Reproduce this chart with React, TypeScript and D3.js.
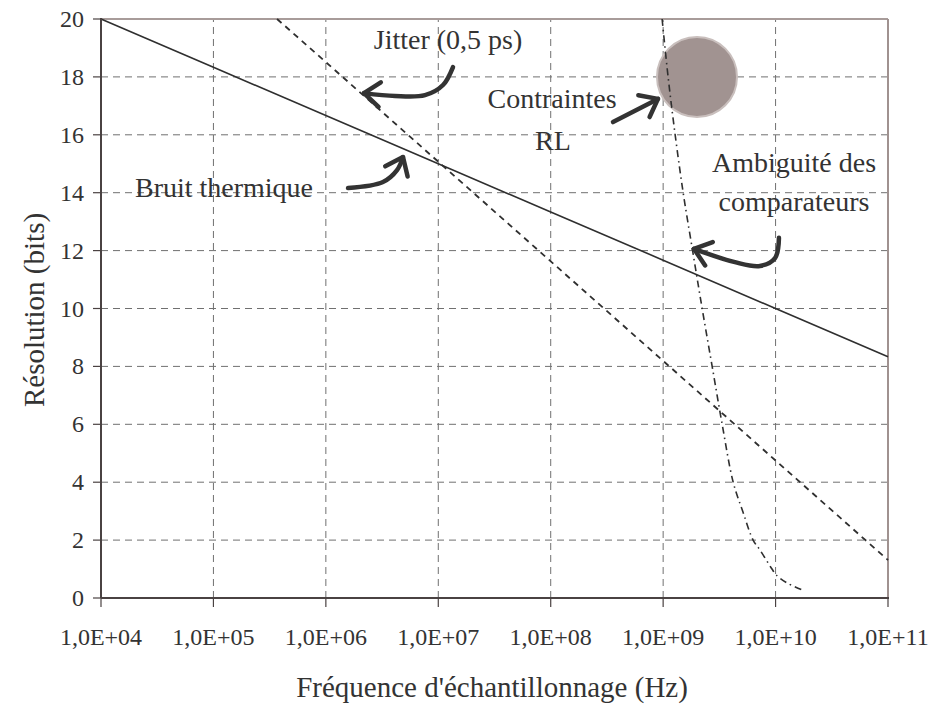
import React from 'react';
import * as d3 from 'd3';

// ---- data ----
const xTickValues = [1e4, 1e5, 1e6, 1e7, 1e8, 1e9, 1e10, 1e11];
const xTickLabels = ['1,0E+04', '1,0E+05', '1,0E+06', '1,0E+07', '1,0E+08', '1,0E+09', '1,0E+10', '1,0E+11'];
const yTickValues = [0, 2, 4, 6, 8, 10, 12, 14, 16, 18, 20];

const thermalFreq = [1e4, 1e5, 1e6, 1e7, 1e8, 1e9, 1e10, 1e11];
const thermalBits = [20, 18.33, 16.67, 15, 13.33, 11.67, 10, 8.33];

const jitterFreq = [3.68e5, 1e6, 1e7, 1e8, 1e9, 1e10, 1e11];
const jitterBits = [20, 18.51, 15.07, 11.63, 8.19, 4.75, 1.31];

const ambigFreq = [9.79e8, 1.107e9, 1.279e9, 1.507e9, 1.828e9, 2.223e9, 2.729e9, 3.35e9, 4.198e9, 5.13e9, 6.31e9, 7.26e9, 9.29e9, 1.012e10, 1.265e10, 1.718e10];
const ambigBits = [20, 18, 16, 14, 12, 10, 8, 6, 4, 2.97, 2, 1.66, 1.0, 0.8, 0.52, 0.28];

// RL constraint zone (centre)
const rlFreq = [2.0e9];
const rlBits = [18];

// annotation arrows (data coords: log10 freq, bits)
const arrowJitter = [[7.131, 18.34], [7.042, 17.72], [6.882, 17.37], [6.615, 17.34], [6.339, 17.44]];
const arrowThermal = [[6.197, 14.16], [6.508, 14.37], [6.633, 14.78], [6.686, 15.23]];
const arrowRL = [[8.554, 16.44], [8.954, 17.24]];
const arrowAmbig = [[10.03, 12.44], [9.995, 11.74], [9.861, 11.47], [9.639, 11.6], [9.274, 12.06]];

const W = 929;
const H = 706;
const FONT = "'Liberation Serif', 'Times New Roman', Times, 'DejaVu Serif', serif";
const TXT = '#333333';

export default function App() {
  const x = d3.scaleLog().domain([1e4, 1e11]).range([101, 888]);
  const y = d3.scaleLinear().domain([0, 20]).range([598, 19]);

  const line = d3.line<[number, number]>().x((d) => x(d[0])).y((d) => y(d[1]));
  const thermal = line(thermalFreq.map((f, i) => [f, thermalBits[i]]) as [number, number][]);
  const jitter = line(jitterFreq.map((f, i) => [f, jitterBits[i]]) as [number, number][]);
  const ambig = d3
    .line<[number, number]>()
    .x((d) => x(d[0]))
    .y((d) => y(d[1]))
    .curve(d3.curveCatmullRom.alpha(0.5))(ambigFreq.map((f, i) => [f, ambigBits[i]]) as [number, number][]);

  const arrow = (pts: number[][], key: string) => {
    const px = pts.map((p) => [x(Math.pow(10, p[0])), y(p[1])] as [number, number]);
    const path = d3.line<[number, number]>().curve(d3.curveCatmullRom.alpha(0.5))(px);
    const n = px.length;
    const tip = px[n - 1];
    const prev = px[n - 2];
    const ang = Math.atan2(tip[1] - prev[1], tip[0] - prev[0]);
    const L = 20;
    const a = (38 * Math.PI) / 180;
    const p1 = [tip[0] - L * Math.cos(ang - a), tip[1] - L * Math.sin(ang - a)];
    const p2 = [tip[0] - L * Math.cos(ang + a), tip[1] - L * Math.sin(ang + a)];
    return (
      <g key={key} stroke="#333" strokeWidth={4.5} fill="none" strokeLinecap="round" strokeLinejoin="round">
        <path d={path || ''} />
        <path d={`M${p1[0]},${p1[1]}L${tip[0]},${tip[1]}L${p2[0]},${p2[1]}`} />
      </g>
    );
  };

  const [x0, x1] = x.range();
  const [y0, y1] = y.range();
  const ts = { fontFamily: FONT } as React.CSSProperties;

  return (
    <svg width={W} height={H} style={{ position: 'absolute', left: 0, top: 0, background: '#fff' }}>
      {/* grid */}
      <g stroke="#707070" strokeWidth={1} strokeDasharray="7,5">
        {yTickValues.filter((v) => v > 0 && v < 20).map((v) => (
          <line key={'gy' + v} x1={x0} x2={x1} y1={y(v)} y2={y(v)} />
        ))}
        {xTickValues.filter((v) => v > 1e4 && v < 1e11).map((v) => (
          <line key={'gx' + v} x1={x(v)} x2={x(v)} y1={y0} y2={y1} />
        ))}
      </g>

      {/* borders */}
      <line x1={x0} x2={x1} y1={y1} y2={y1} stroke="#a89c9a" strokeWidth={2} />
      <line x1={x1} x2={x1} y1={y1} y2={y0} stroke="#a09290" strokeWidth={2} />

      {/* RL circle */}
      {rlFreq.map((f, i) => (
        <circle key={'rl' + i} cx={x(f)} cy={y(rlBits[i])} r={40} fill="#a19391" stroke="#c9bfbd" strokeWidth={2} />
      ))}

      {/* curves */}
      <path d={thermal || ''} fill="none" stroke="#2f2f2f" strokeWidth={1.6} />
      <path d={jitter || ''} fill="none" stroke="#2f2f2f" strokeWidth={1.8} strokeDasharray="6,5" />
      <path d={ambig || ''} fill="none" stroke="#2f2f2f" strokeWidth={1.6} strokeDasharray="7,4,1.5,4" />

      {/* axes */}
      <g stroke="#4a4242" strokeWidth={2}>
        <line x1={x0} x2={x0} y1={y1 - 1} y2={y0} />
        <line x1={x0} x2={x1 + 1} y1={y0} y2={y0} />
        {yTickValues.map((v) => (
          <line key={'ty' + v} x1={x0 - 8} x2={x0} y1={y(v)} y2={y(v)} strokeWidth={1.2} />
        ))}
        {xTickValues.map((v) => (
          <line key={'tx' + v} x1={x(v)} x2={x(v)} y1={y0} y2={y0 + 9} strokeWidth={1.2} />
        ))}
      </g>

      {/* tick labels */}
      <g fill={TXT} fontSize={24} style={ts}>
        {yTickValues.map((v) => (
          <text key={'ly' + v} x={84} y={y(v) + 8} textAnchor="end" style={ts}>
            {v}
          </text>
        ))}
        {xTickValues.map((v, i) => (
          <text key={'lx' + v} x={x(v)} y={645} textAnchor="middle" style={ts}>
            {xTickLabels[i]}
          </text>
        ))}
      </g>

      {/* axis titles */}
      <text x={492} y={697} textAnchor="middle" fontSize={29} fill={TXT} style={ts}>
        Fréquence d'échantillonnage (Hz)
      </text>
      <text transform="translate(44,310) rotate(-90)" textAnchor="middle" fontSize={29} fill={TXT} style={ts}>
        Résolution (bits)
      </text>

      {/* annotations */}
      <g fill={TXT} fontSize={28} textAnchor="middle" style={ts}>
        <text x={448} y={49} style={ts}>Jitter (0,5 ps)</text>
        <text x={552} y={108} style={ts}>Contraintes</text>
        <text x={553} y={150} style={ts}>RL</text>
        <text x={224} y={197} style={ts}>Bruit thermique</text>
        <text x={794} y={172} style={ts}>Ambiguité des</text>
        <text x={794} y={211} style={ts}>comparateurs</text>
      </g>
      {arrow(arrowJitter, 'a1')}
      {arrow(arrowThermal, 'a2')}
      {arrow(arrowRL, 'a3')}
      {arrow(arrowAmbig, 'a4')}
    </svg>
  );
}
